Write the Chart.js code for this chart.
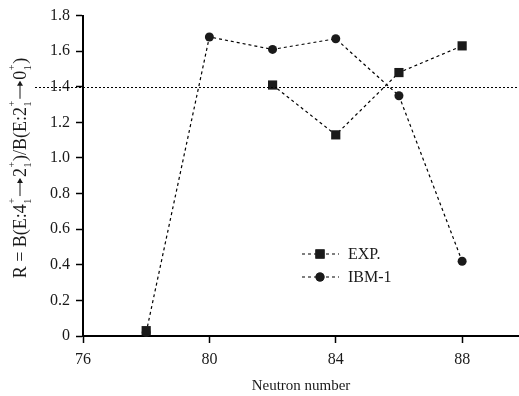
<!DOCTYPE html>
<html>
<head>
<meta charset="utf-8">
<script src="https://cdn.jsdelivr.net/npm/chart.js@4.4.0/dist/chart.umd.min.js"></script>
<style>
  html, body { margin: 0; padding: 0; background: #fff; }
  #wrap { width: 519px; height: 396px; }
</style>
</head>
<body>
<div id="wrap"><canvas id="chart" width="519" height="396"></canvas></div>
<script>
const neutrons = [78, 80, 82, 84, 86, 88];
const expValues = [0.03, null, 1.41, 1.13, 1.48, 1.63];
const ibmValues = [0.02, 1.68, 1.61, 1.67, 1.35, 0.42];
const xTicks = [76, 80, 84, 88];
const yTicks = [0, 0.2, 0.4, 0.6, 0.8, 1.0, 1.2, 1.4, 1.6, 1.8];
const refLine = 1.4;

const serif = '"Liberation Serif", "DejaVu Serif", serif';

const chart = document.querySelector('#chart');

// legend + reference line + stacked y title
const extras = {
    id: 'extras',
    afterDatasetsDraw(c) {
        const ctx = c.ctx;
        const y = c.scales.y;
        const area = c.chartArea;

        // dotted line at R = 1.4
        const py = Math.round(y.getPixelForValue(refLine)) + 0.5;
        ctx.save();
        ctx.strokeStyle = '#000';
        ctx.lineWidth = 1.2;
        ctx.setLineDash([2, 2]);
        ctx.beginPath();
        ctx.moveTo(35, py);
        ctx.lineTo(area.right, py);
        ctx.stroke();
        ctx.restore();

        // legend
        const rows = [
            { label: 'EXP.', style: 'rect', r: 6.5, y: 254 },
            { label: 'IBM-1', style: 'circle', r: 4.5, y: 277 }
        ];
        rows.forEach((row) => {
            ctx.save();
            ctx.strokeStyle = '#000';
            ctx.lineWidth = 1.2;
            ctx.setLineDash([3, 3]);
            ctx.beginPath();
            ctx.moveTo(302, row.y);
            ctx.lineTo(339, row.y);
            ctx.stroke();
            ctx.setLineDash([]);
            ctx.fillStyle = '#1a1a1a';
            Chart.helpers.drawPoint(ctx, { pointStyle: row.style, radius: row.r, rotation: 0, borderWidth: 0 }, 320, row.y);
            ctx.fill();
            ctx.font = '16px ' + serif;
            ctx.textBaseline = 'middle';
            ctx.fillStyle = '#1a1a1a';
            ctx.fillText(row.label, 348, row.y + 1);
            ctx.restore();
        });

        // y axis title with stacked super/subscripts
        const big = '18px ' + serif;
        const small = '10px ' + serif;
        const parts = [
            ['t', 'R = B(E:4'], ['s', '+', '1'], ['a'], ['t', '2'], ['s', '+', '1'],
            ['t', ')/B(E:2'], ['s', '+', '1'], ['a'], ['t', '0'], ['s', '+', '1'], ['t', ')']
        ];
        ctx.save();
        let total = 0;
        parts.forEach((p) => {
            if (p[0] === 't') { ctx.font = big; p.w = ctx.measureText(p[1]).width; }
            else if (p[0] === 'a') { p.w = 20; }
            else { ctx.font = small; p.w = Math.max(ctx.measureText(p[1]).width, ctx.measureText(p[2]).width) + 1.5; }
            total += p.w;
        });
        ctx.translate(21, 168);
        ctx.rotate(-Math.PI / 2);
        ctx.fillStyle = '#1a1a1a';
        ctx.strokeStyle = '#1a1a1a';
        ctx.textBaseline = 'alphabetic';
        let x = -total / 2;
        parts.forEach((p) => {
            if (p[0] === 't') {
                ctx.font = big;
                ctx.fillText(p[1], x, 5);
            } else if (p[0] === 'a') {
                // long arrow: shaft plus head
                ctx.lineWidth = 1;
                ctx.beginPath();
                ctx.moveTo(x + 1, -1);
                ctx.lineTo(x + p.w - 2, -1);
                ctx.stroke();
                ctx.beginPath();
                ctx.moveTo(x + p.w - 1, -1);
                ctx.lineTo(x + p.w - 6, -4);
                ctx.lineTo(x + p.w - 6, 2);
                ctx.closePath();
                ctx.fill();
            } else {
                ctx.font = small;
                ctx.fillText(p[1], x + 0.5, -6);
                ctx.fillText(p[2], x + 0.5, 10);
            }
            x += p.w;
        });
        ctx.restore();
    }
};

new Chart(chart, {
    type: 'line',
    data: {
        datasets: [
            {
                label: 'EXP.',
                data: neutrons.map((n, i) => ({ x: n, y: expValues[i] })),
                borderColor: '#000',
                backgroundColor: '#1a1a1a',
                borderWidth: 1.2,
                borderDash: [3, 3],
                pointStyle: 'rect',
                pointRadius: 6.5,
                pointBorderWidth: 0,
                spanGaps: false
            },
            {
                label: 'IBM-1',
                data: neutrons.map((n, i) => ({ x: n, y: ibmValues[i] })),
                borderColor: '#000',
                backgroundColor: '#1a1a1a',
                borderWidth: 1.2,
                borderDash: [3, 3],
                pointStyle: 'circle',
                pointRadius: 4.5,
                pointBorderWidth: 0
            }
        ]
    },
    options: {
        responsive: false,
        animation: false,
        clip: false,
        layout: { autoPadding: false, padding: { top: 14, right: 0, left: 0, bottom: 0 } },
        plugins: {
            legend: { display: false },
            tooltip: { enabled: false }
        },
        scales: {
            x: {
                type: 'linear',
                min: 76,
                max: 89.8,
                afterBuildTicks: (s) => { s.ticks = xTicks.map((v) => ({ value: v })) },
                afterFit: (s) => { s.height = 60; s.paddingRight = 0; s.paddingLeft = 0 },
                grid: { drawOnChartArea: false, drawTicks: true, tickLength: 7, tickWidth: 1.5, color: '#000' },
                border: { display: true, color: '#000', width: 2 },
                ticks: { color: '#1a1a1a', font: { family: serif, size: 16 }, padding: 7, maxRotation: 0 },
                title: { display: true, text: 'Neutron number', color: '#1a1a1a', font: { family: serif, size: 15 }, padding: { top: 0, bottom: 1 } }
            },
            y: {
                type: 'linear',
                min: 0,
                max: 1.8,
                afterBuildTicks: (s) => { s.ticks = yTicks.map((v) => ({ value: v })) },
                afterFit: (s) => { s.width = 83 },
                grid: { drawOnChartArea: false, drawTicks: true, tickLength: 7, tickWidth: 1.5, color: '#000' },
                border: { display: true, color: '#000', width: 2 },
                ticks: {
                    color: '#1a1a1a',
                    font: { family: serif, size: 16 },
                    padding: 6,
                    callback: (v) => v === 0 ? '0' : v.toFixed(1)
                }
            }
        }
    },
    plugins: [extras]
});
</script>
</body>
</html>
